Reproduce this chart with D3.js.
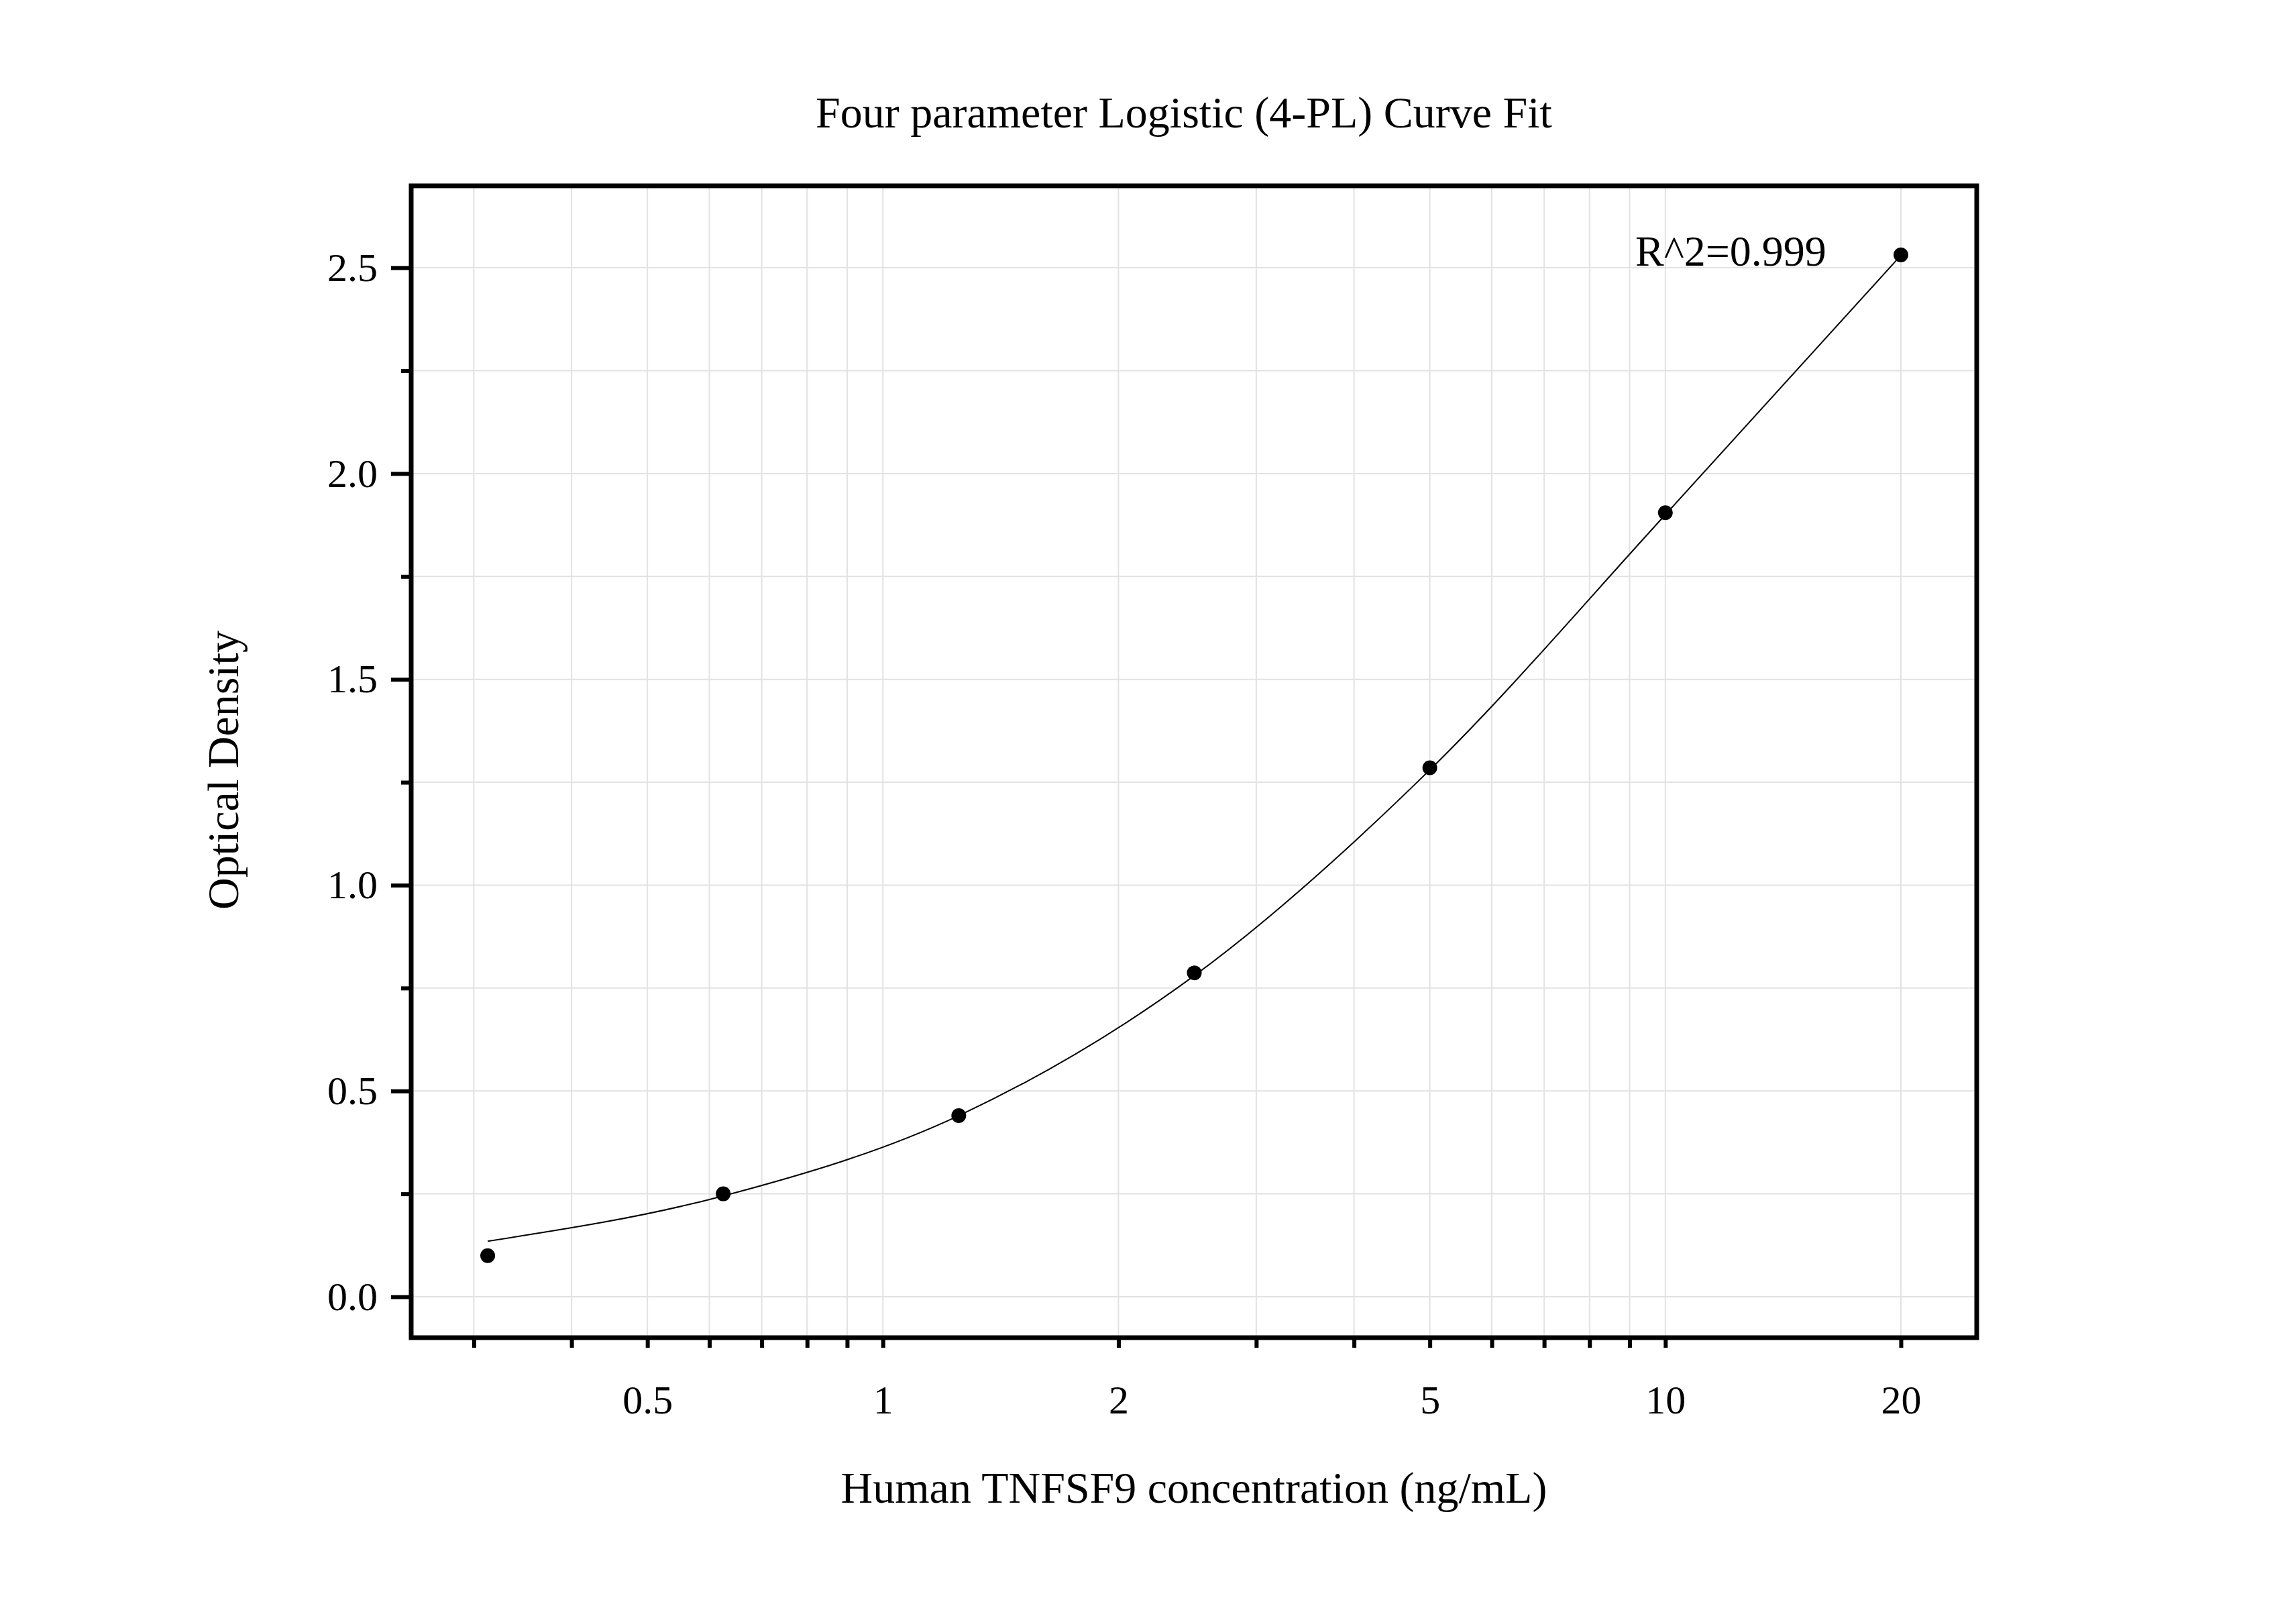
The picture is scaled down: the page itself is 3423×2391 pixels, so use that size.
<!DOCTYPE html><html><head><meta charset="utf-8"><script src="https://cdn.jsdelivr.net/npm/d3@7"></script>
<style>body{margin:0;background:#fff}text{font-family:"Liberation Serif","Times New Roman",serif;fill:#000}</style></head><body><svg id="c" width="3423" height="2391"></svg><script>
const concentrations=[0.3125,0.625,1.25,2.5,5,10,20];
const odValues=[0.10,0.25,0.44,0.787,1.285,1.905,2.531];
const fitValues=[0.135,0.245,0.44,0.78,1.28,1.9,2.53];
const xTickLabels=[0.5,1,2,5,10,20];
const yTickLabels=[0,0.5,1.0,1.5,2.0,2.5];
const svg=d3.select("#c");
const L=613,R=2947,T=277,B=1994;
const x=d3.scaleLog().domain([0.2495,25]).range([L,R]);
const y=d3.scaleLinear().domain([-0.0994,2.699]).range([B,T]);
const minor=[];for(const d of [0.1,1,10])for(let k=1;k<10;k++){const v=d*k;if(v>0.25&&v<25)minor.push(+v.toPrecision(3));}
const g=svg.append("g");
g.selectAll(".gx").data(minor).join("line").attr("x1",d=>x(d)).attr("x2",d=>x(d)).attr("y1",T).attr("y2",B).attr("stroke","#e2e2e2").attr("stroke-width",2);
const yg=d3.range(0,2.75,0.25);
g.selectAll(".gy").data(yg).join("line").attr("x1",L).attr("x2",R).attr("y1",d=>y(d)).attr("y2",d=>y(d)).attr("stroke","#e2e2e2").attr("stroke-width",2);
const pts=concentrations.map((c,i)=>[c,fitValues[i]]);
svg.append("path").datum(pts).attr("fill","none").attr("stroke","#000").attr("stroke-width",2)
 .attr("d",d3.line().x(d=>x(d[0])).y(d=>y(d[1])).curve(d3.curveMonotoneX));
svg.selectAll(".pt").data(concentrations).join("circle").attr("cx",d=>x(d)).attr("cy",(d,i)=>y(odValues[i])).attr("r",11).attr("fill","#000");
svg.append("rect").attr("x",L).attr("y",T).attr("width",R-L).attr("height",B-T).attr("fill","none").attr("stroke","#000").attr("stroke-width",7);
const xa=svg.append("g").attr("transform",`translate(0,${B})`).call(d3.axisBottom(x).tickValues(minor).tickSize(15).tickFormat(d=>xTickLabels.includes(d)?d:""));
xa.select(".domain").remove();xa.selectAll("line").attr("stroke-width",6);
xa.selectAll("text").attr("font-size",60).attr("y",70).attr("dy","0.71em");
const ya=svg.append("g").attr("transform",`translate(${L},0)`).call(d3.axisLeft(y).tickValues(yg).tickSize(30).tickFormat(d=>yTickLabels.includes(d)?d3.format(".1f")(d):""));
ya.select(".domain").remove();ya.selectAll("line").attr("stroke-width",6).attr("x2",d=>yTickLabels.includes(d)?-30:-15);
ya.selectAll("text").attr("font-size",60).attr("x",-50);
svg.append("text").attr("x",1765).attr("y",190).attr("text-anchor","middle").attr("font-size",66).text("Four parameter Logistic (4-PL) Curve Fit");
svg.append("text").attr("x",1780).attr("y",2240).attr("text-anchor","middle").attr("font-size",66).text("Human TNFSF9 concentration (ng/mL)");
svg.append("text").attr("transform","translate(355,1148) rotate(-90)").attr("text-anchor","middle").attr("font-size",66).text("Optical Density");
svg.append("text").attr("x",2438).attr("y",396).attr("font-size",64).text("R^2=0.999");
</script></body></html>
